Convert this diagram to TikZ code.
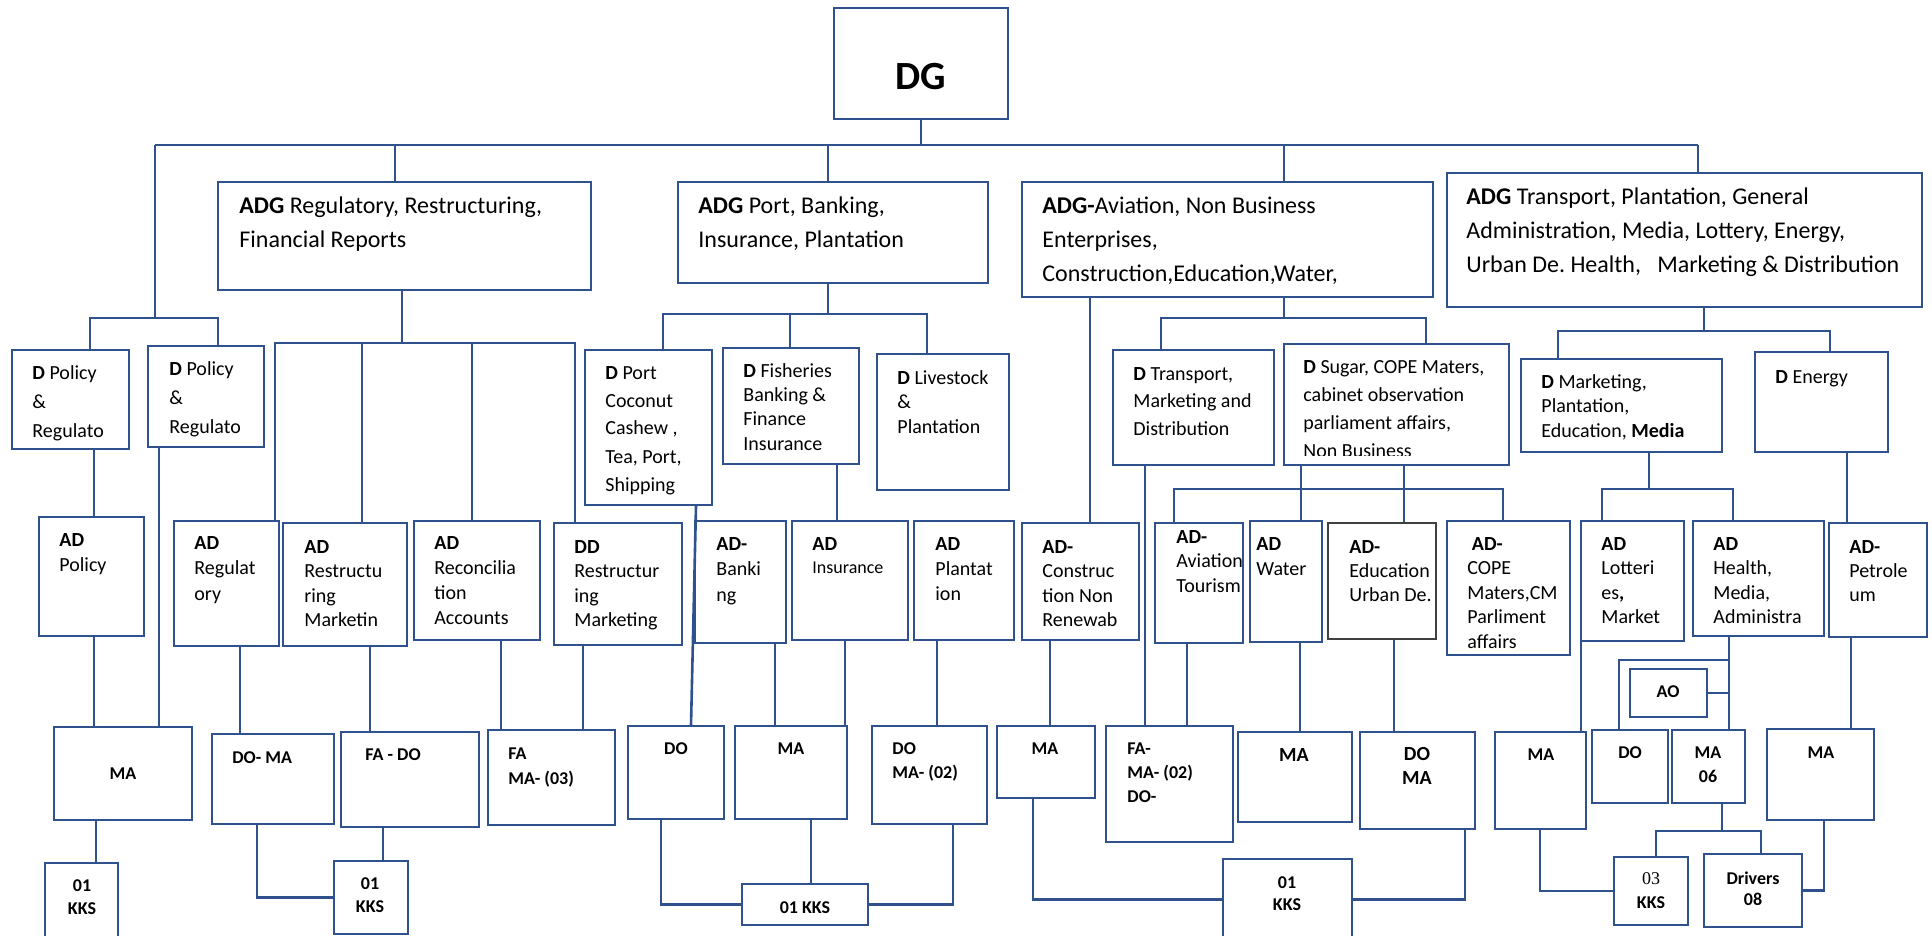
\documentclass[tikz,border=0pt]{standalone}
\usepackage{fontspec}
\setmainfont{Carlito}
\newfontfamily\numfont{Liberation Serif}
\usetikzlibrary{fit}
\definecolor{orgblue}{HTML}{2F528F}
\definecolor{orggray}{HTML}{404040}
\frenchspacing
\begin{document}
\begin{tikzpicture}[x=0.5pt,y=-0.5pt,
  box/.style={draw=orgblue,line width=0.9pt,inner sep=0pt},
  con/.style={draw=orgblue,line width=1.3pt},
  txt/.style={inner sep=0pt,anchor=base west,text width=110pt,align=flush left,font=\fontsize{10}{12.25}\selectfont},
  head/.style={txt,text width=240pt,font=\fontsize{12}{17}\selectfont},
  lbl/.style={inner sep=0pt,anchor=base,text width=60pt,align=flush center,font=\bfseries\fontsize{9}{12}\selectfont},
  lbll/.style={inner sep=0pt,anchor=base west,text width=60pt,align=flush left,font=\bfseries\fontsize{9}{12}\selectfont}]
\useasboundingbox (0,0) rectangle (1932,936);
\clip (0,0) rectangle (1932,936);
\coordinate (busL) at (155,145);
\coordinate (busR) at (1698,145);
\node [box, fit={(834,8) (1008,119)}] (dg) {};
\node [box, fit={(218,182) (591,290)}] (adgA) {};
\node [box, fit={(678,182) (988,283)}] (adgB) {};
\node [box, fit={(1022,182) (1433,297)}] (adgC) {};
\node [box, fit={(1447,173) (1922,307)}] (adgD) {};
\node [box, fit={(12,350) (129,449)}] (dpolA) {};
\node [box, fit={(148,346) (264,447)}] (dpolB) {};
\node [box, fit={(585,350) (712,505)}] (dport) {};
\node [box, fit={(723,348) (859,464)}] (dfish) {};
\node [box, fit={(877,354) (1009,490)}] (dlive) {};
\node [box, fit={(1113,350) (1274,465)}] (dtrans) {};
\node [box, fit={(1284,344) (1509,465)}] (dsugar) {};
\node [box, fit={(1521,359) (1722,452)}] (dmkt) {};
\node [box, fit={(1755,352) (1888,452)}] (denergy) {};
\node [box, fit={(39,517) (144,636)}] (adpol) {};
\node [box, fit={(174,521) (279,646)}] (adreg) {};
\node [box, fit={(283,523) (407,646)}] (adrestr) {};
\node [box, fit={(414,521) (540,640)}] (adrecon) {};
\node [box, fit={(554,523) (682,645)}] (ddrestr) {};
\node [box, fit={(695,521) (786,643)}] (adbank) {};
\node [box, fit={(792,521) (908,640)}] (adins) {};
\node [box, fit={(914,521) (1014,640)}] (adplant) {};
\node [box, fit={(1022,523) (1139,640)}] (adconst) {};
\node [box, fit={(1155,523) (1243,643)}] (adavia) {};
\node [box, fit={(1250,521) (1322,642)}] (adwater) {};
\node [box, draw=orggray, line width=1.2pt, fit={(1328,523) (1436,639)}] (adedu) {};
\node [box, fit={(1447,521) (1570,655)}] (adcope) {};
\node [box, fit={(1581,521) (1684,641)}] (adlott) {};
\node [box, fit={(1693,521) (1824,636)}] (adhealth) {};
\node [box, fit={(1829,523) (1927,637)}] (adpetro) {};
\node [box, fit={(54,727) (192,820)}] (maA) {};
\node [box, fit={(212,734) (334,824)}] (domaA) {};
\node [box, fit={(341,732) (479,827)}] (fado) {};
\node [box, fit={(488,730) (615,825)}] (fama) {};
\node [box, fit={(628,726) (724,819)}] (doport) {};
\node [box, fit={(735,726) (847,819)}] (mabank) {};
\node [box, fit={(872,726) (987,824)}] (domaB) {};
\node [box, fit={(997,726) (1095,798)}] (maconst) {};
\node [box, fit={(1106,726) (1233,842)}] (famado) {};
\node [box, fit={(1238,732) (1352,822)}] (mawater) {};
\node [box, fit={(1360,732) (1475,829)}] (domaC) {};
\node [box, fit={(1495,732) (1586,829)}] (malott) {};
\node [box, fit={(1630,669) (1707,717)}] (ao) {};
\node [box, fit={(1592,730) (1668,803)}] (dohealth) {};
\node [box, fit={(1672,730) (1745,803)}] (ma06) {};
\node [box, fit={(1767,729) (1874,820)}] (mapetro) {};
\node [box, fit={(45,863) (118,950)}] (kksA) {};
\node [box, fit={(334,861) (408,934)}] (kksB) {};
\node [box, fit={(742,884) (868,925)}] (kksC) {};
\node [box, fit={(1223,859) (1352,940)}] (kksD) {};
\node [box, fit={(1614,857) (1688,925)}] (kksE) {};
\node [box, fit={(1704,854) (1802,927)}] (drivers) {};
\node [lbl, font=\bfseries\fontsize{20}{24}\selectfont] (dg-t) at (921,90) {DG};
\node [head] (adgA-t) at (239,214) {\textbf{ADG} Regulatory, Restructuring,\\Financial Reports};
\node [head] (adgB-t) at (698,214) {\textbf{ADG} Port, Banking,\\Insurance, Plantation};
\node [head] (adgC-t) at (1042,214) {\textbf{ADG-}Aviation, Non Business\\Enterprises,\\Construction,Education,Water,};
\node [head] (adgD-t) at (1466,205) {\textbf{ADG} Transport, Plantation, General\\Administration, Media, Lottery, Energy,\\Urban De. Health,\ \ \ Marketing \& Distribution};
\node [txt, font=\fontsize{10}{14.5}\selectfont] (dpolA-t) at (32,379) {\textbf{D} Policy\\\&\\Regulato};
\node [txt, font=\fontsize{10}{14.5}\selectfont] (dpolB-t) at (169,375) {\textbf{D} Policy\\\&\\Regulato};
\node [txt, font=\fontsize{10}{14}\selectfont] (dport-t) at (605,379) {\textbf{D} Port\\Coconut\\Cashew ,\\Tea, Port,\\Shipping};
\node [txt] (dfish-t) at (743,377) {\textbf{D} Fisheries\\Banking \&\\Finance\\Insurance};
\node [txt] (dlive-t) at (897,384) {\textbf{D} Livestock\\\&\\Plantation};
\node [txt, font=\fontsize{10}{13.75}\selectfont] (dtrans-t) at (1133,380) {\textbf{D} Transport,\\Marketing and\\Distribution};
\begin{scope}
\clip (1284,344) rectangle (1509,455);
\node [txt, font=\fontsize{10}{14}\selectfont] (dsugar-t) at (1303,373) {\textbf{D} Sugar, COPE Maters,\\cabinet observation\\parliament affairs,\\Non Business};
\end{scope}
\node [txt] (dmkt-t) at (1541,388) {\textbf{D} Marketing,\\Plantation,\\Education, \textbf{Media}};
\node [txt] (denergy-t) at (1775,383) {\textbf{D} Energy};
\node [txt, font=\fontsize{10}{12.5}\selectfont] (adpol-t) at (59,546) {\textbf{AD}\\Policy};
\node [txt, font=\fontsize{10}{12.75}\selectfont] (adreg-t) at (194,549) {\textbf{AD}\\Regulat\\ory};
\node [txt] (adrestr-t) at (304,553) {\textbf{AD}\\Restructu\\ring\\Marketin};
\node [txt, font=\fontsize{10}{12.5}\selectfont] (adrecon-t) at (434,549) {\textbf{AD}\\Reconcilia\\tion\\Accounts};
\node [txt] (ddrestr-t) at (574,553) {\textbf{DD}\\Restructur\\ing\\Marketing};
\node [txt, font=\fontsize{10}{12.75}\selectfont] (adbank-t) at (716,550) {\textbf{AD-}\\Banki\\ng};
\node [txt, font=\fontsize{10}{11.5}\selectfont] (adins-t) at (812,550) {\textbf{AD}\\{\fontsize{9}{11}\selectfont Insurance}};
\node [txt, font=\fontsize{10}{12.5}\selectfont] (adplant-t) at (935,550) {\textbf{AD}\\Plantat\\ion};
\node [txt] (adconst-t) at (1042,553) {\textbf{AD-}\\Construc\\tion Non\\Renewab};
\node [txt] (adavia-t) at (1176,543) {\textbf{AD-}\\Aviation\\Tourism};
\node [txt, font=\fontsize{10}{12.5}\selectfont] (adwater-t) at (1256,550) {\textbf{AD}\\Water};
\node [txt, font=\fontsize{10}{12}\selectfont] (adedu-t) at (1349,553) {\textbf{AD-}\\Education\\Urban De.};
\node [txt] (adcope-t) at (1467,550) {\ \textbf{AD-}\\COPE\\Maters,CM\\Parliment\\affairs};
\node [txt] (adlott-t) at (1601,550) {\textbf{AD}\\Lotteri\\es\textbf{,}\\Market};
\node [txt] (adhealth-t) at (1713,550) {\textbf{AD}\\Health,\\Media,\\Administra};
\node [txt, font=\fontsize{10}{12}\selectfont] (adpetro-t) at (1849,553) {\textbf{AD-}\\Petrole\\um};
\node [lbl] (maA-t) at (123,779) {MA};
\node [lbll] (domaA-t) at (232,763) {DO- MA};
\node [lbll] (fado-t) at (365,760) {FA - DO};
\node [lbll, font=\bfseries\fontsize{9}{12.5}\selectfont] (fama-t) at (508,759) {FA\\MA- (03)};
\node [lbl] (doport-t) at (676,754) {DO};
\node [lbl] (mabank-t) at (791,754) {MA};
\node [lbll] (domaB-t) at (892,754) {DO\\MA- (02)};
\node [lbl] (maconst-t) at (1045,754) {MA};
\node [lbll] (famado-t) at (1127,754) {FA-\\MA- (02)\\DO-};
\node [lbl, font=\bfseries\fontsize{10}{12}\selectfont] (mawater-t) at (1294,761) {MA};
\node [lbl, font=\bfseries\fontsize{10}{12}\selectfont] (domaC-t) at (1417,760) {DO\\MA};
\node [lbl] (malott-t) at (1541,760) {MA};
\node [lbl] (ao-t) at (1668,697) {AO};
\node [lbl] (dohealth-t) at (1630,758) {DO};
\node [lbl] (ma06-t) at (1708,758) {MA\\06};
\node [lbl] (mapetro-t) at (1821,758) {MA};
\node [lbl, font=\bfseries\fontsize{9}{11.5}\selectfont] (kksA-t) at (82,891) {01\\KKS};
\node [lbl, font=\bfseries\fontsize{9}{11.5}\selectfont] (kksB-t) at (370,889) {01\\KKS};
\node [lbl] (kksC-t) at (805,913) {01 KKS};
\node [lbl, font=\bfseries\fontsize{9}{11}\selectfont] (kksD-t) at (1287,888) {01\\KKS};
\node [lbl] (kksE-t) at (1651,884) {{\numfont\mdseries 03}\\KKS};
\node [lbl, font=\bfseries\fontsize{9}{10.5}\selectfont] (drivers-t) at (1753,884) {Drivers\\08};
\draw [con] (dg.south) -- (dg.south |- busL);
\draw [con] (busL) -- (busR);
\draw [con] (busL) -- (155,318);
\draw [con] (90,0 |- dpolA.north) |- (218,318) -- (218,0 |- dpolB.north);
\draw [con] (395,0 |- busL) -- (395,0 |- adgA.north);
\draw [con] (828,0 |- busL) -- (828,0 |- adgB.north);
\draw [con] (1284,0 |- busL) -- (1284,0 |- adgC.north);
\draw [con] (busR) -- (busR |- adgD.north);
\draw [con] (402,0 |- adgA.south) -- (402,343);
\draw [con] (275,0 |- adreg.north) |- (575,343) -- (575,0 |- ddrestr.north);
\draw [con] (362,343) -- (362,0 |- adrestr.north);
\draw [con] (472,343) -- (472,0 |- adrecon.north);
\draw [con] (94,0 |- dpolA.south) -- (94,0 |- adpol.north);
\draw [con] (94,0 |- adpol.south) -- (94,0 |- maA.north);
\draw [con] (159,0 |- dpolB.south) -- (159,0 |- maA.north);
\draw [con] (96,0 |- maA.south) -- (96,0 |- kksA.north);
\draw [con] (240,0 |- adreg.south) -- (240,0 |- domaA.north);
\draw [con] (257,0 |- domaA.south) |- (kksB.west);
\draw [con] (370,0 |- adrestr.south) -- (370,0 |- fado.north);
\draw [con] (383,0 |- fado.south) -- (383,0 |- kksB.north);
\draw [con] (501,0 |- adrecon.south) -- (501,0 |- fama.north);
\draw [con] (583,0 |- ddrestr.south) -- (583,0 |- fama.north);
\draw [con] (828,0 |- adgB.south) -- (828,314);
\draw [con] (663,0 |- dport.north) |- (927,314) -- (927,0 |- dlive.north);
\draw [con] (790,314) -- (790,0 |- dfish.north);
\draw [con] (696,0 |- dport.south) -- (691,0 |- doport.north);
\draw [con] (837,0 |- dfish.south) -- (837,0 |- adins.north);
\draw [con] (775,0 |- adbank.south) -- (775,0 |- mabank.north);
\draw [con] (845,0 |- adins.south) -- (845,0 |- mabank.north);
\draw [con] (937,0 |- adplant.south) -- (937,0 |- domaB.north);
\draw [con] (661,0 |- doport.south) |- (kksC.west);
\draw [con] (811,0 |- mabank.south) -- (811,0 |- kksC.north);
\draw [con] (953,0 |- domaB.south) |- (kksC.east);
\draw [con] (1090,0 |- adgC.south) -- (1090,0 |- adconst.north);
\draw [con] (1284,0 |- adgC.south) -- (1284,318);
\draw [con] (1161,0 |- dtrans.north) |- (1426,318) -- (1426,0 |- dsugar.north);
\draw [con] (1145,0 |- dtrans.south) -- (1145,0 |- famado.north);
\draw [con] (1174,0 |- adavia.north) |- (1503,489) -- (1503,0 |- adcope.north);
\draw [con] (1301,0 |- dsugar.south) -- (1301,0 |- adwater.north);
\draw [con] (1404,0 |- dsugar.south) -- (1404,0 |- adedu.north);
\draw [con] (1050,0 |- adconst.south) -- (1050,0 |- maconst.north);
\draw [con] (1033,0 |- maconst.south) |- (kksD.west);
\draw [con] (1187,0 |- adavia.south) -- (1187,0 |- famado.north);
\draw [con] (1300,0 |- adwater.south) -- (1300,0 |- mawater.north);
\draw [con] (1394,0 |- adedu.south) -- (1394,0 |- domaC.north);
\draw [con] (1465,0 |- domaC.south) |- (kksD.east);
\draw [con] (1704,0 |- adgD.south) -- (1704,331);
\draw [con] (1558,0 |- dmkt.north) |- (1830,331) -- (1830,0 |- denergy.north);
\draw [con] (1649,0 |- dmkt.south) -- (1649,489);
\draw [con] (1602,0 |- adlott.north) |- (1733,489) -- (1733,0 |- adhealth.north);
\draw [con] (1847,0 |- denergy.south) -- (1847,0 |- adpetro.north);
\draw [con] (1581,0 |- adlott.south) -- (1581,0 |- malott.north);
\draw [con] (1729,0 |- adhealth.south) -- (1729,0 |- ma06.north);
\draw [con] (1619,0 |- dohealth.north) |- (1729,660);
\draw [con] (ao.east) -- (1729,0 |- ao.east);
\draw [con] (1540,0 |- malott.south) |- (kksE.west);
\draw [con] (1722,0 |- ma06.south) -- (1722,831);
\draw [con] (1656,0 |- kksE.north) |- (1761,831) -- (1761,0 |- drivers.north);
\draw [con] (1851,0 |- adpetro.south) -- (1851,0 |- mapetro.north);
\draw [con] (1824,0 |- mapetro.south) |- (drivers.east);
\end{tikzpicture}
\end{document}
